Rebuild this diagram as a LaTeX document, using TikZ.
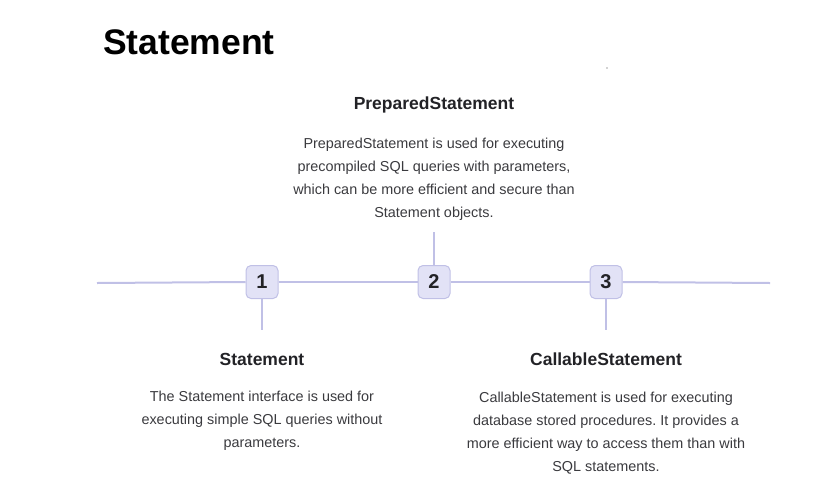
\documentclass[tikz,border=0pt]{standalone}
\usepackage{fontspec}
\setmainfont{Liberation Sans}
\frenchspacing
\definecolor{linec}{RGB}{192,192,230}
\definecolor{boxf}{RGB}{226,226,246}
\definecolor{headc}{RGB}{34,34,38}
\definecolor{bodyc}{RGB}{58,58,62}
\begin{document}
\begin{tikzpicture}[x=1pt,y=-1pt,
  conn/.style={draw=linec,line width=2pt},
  numbox/.style={draw=linec,line width=1pt,fill=boxf,rounded corners=5pt,minimum width=32pt,minimum height=33pt,inner sep=0pt,font=\fontsize{20}{20}\selectfont\bfseries,text=headc},
  headtext/.style={font=\fontsize{17.5}{20}\selectfont\bfseries,text=headc,inner sep=0pt},
  bodytext/.style={font=\fontsize{14.4}{23}\selectfont,text=bodyc,align=center,inner sep=0pt}]
\useasboundingbox (0,0) rectangle (840,493);
\node[anchor=west,font=\fontsize{35.5}{40}\selectfont\bfseries,inner sep=0pt] (title) at (103,42) {Statement};
\fill[gray!70] (607,68) circle (0.9);
\coordinate (L) at (97,283);
\coordinate (R) at (770,283);
\coordinate (c1) at (262,330);
\coordinate (c2) at (434,232);
\coordinate (c3) at (606,330);
\node[numbox] (b1) at (262,282) {1};
\node[numbox] (b2) at (434,282) {2};
\node[numbox] (b3) at (606,282) {3};
\draw[conn] (L) -- (b1.west);
\draw[conn] (b1.east) -- (b2.west);
\draw[conn] (b2.east) -- (b3.west);
\draw[conn] (b3.east) -- (R);
\draw[conn] (b2.north) -- (c2);
\draw[conn] (b1.south) -- (c1);
\draw[conn] (b3.south) -- (c3);
\node[headtext] (h2) at (434,105) {PreparedStatement};
\node[bodytext] (t2) at (434,179) {PreparedStatement is used for executing\\precompiled SQL queries with parameters,\\which can be more efficient and secure than\\Statement objects.};
\node[headtext] (h1) at (262,359) {Statement};
\node[bodytext] (t1) at (262,421) {The Statement interface is used for\\executing simple SQL queries without\\parameters.};
\node[headtext] (h3) at (606,359) {CallableStatement};
\node[bodytext] (t3) at (606,433) {CallableStatement is used for executing\\database stored procedures. It provides a\\more efficient way to access them than with\\SQL statements.};
\end{tikzpicture}
\end{document}
